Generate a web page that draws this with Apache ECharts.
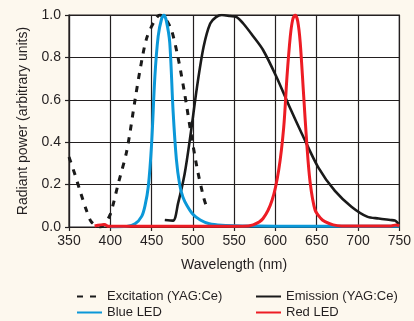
<!DOCTYPE html>
<html>
<head>
<meta charset="utf-8">
<script src="https://cdn.jsdelivr.net/npm/echarts@6/dist/echarts.min.js"></script>
<style>
html,body{margin:0;padding:0;background:#fdf8ee;}
#chart{width:414px;height:321px;}
</style>
</head>
<body>
<div id="chart"></div>
<script>
// Tick values
var xTicks = [350, 400, 450, 500, 550, 600, 650, 700, 750];
var yTicks = [0.0, 0.2, 0.4, 0.6, 0.8, 1.0];

// Series names
var seriesNames = ['Excitation (YAG:Ce)', 'Emission (YAG:Ce)', 'Blue LED', 'Red LED'];

// Excitation (YAG:Ce)
var excitationNm  = [350, 357, 363, 371, 377, 388, 394, 400, 410, 420, 430, 436, 444, 454, 460, 467, 474, 482, 490, 497, 505, 513, 517];
var excitationVal = [0.33, 0.25, 0.175, 0.08, 0.025, 0.0, 0.02, 0.06, 0.21, 0.36, 0.60, 0.74, 0.89, 0.975, 1.0, 0.98, 0.93, 0.80, 0.63, 0.46, 0.28, 0.14, 0.09];

// Emission (YAG:Ce)
var emissionNm  = [466, 476, 482, 490, 497, 505, 513, 521, 528, 535, 545, 553, 561, 573, 585, 601, 617, 632, 652, 672, 692, 711, 725, 739, 745, 749];
var emissionVal = [0.033, 0.03, 0.11, 0.25, 0.43, 0.66, 0.85, 0.96, 0.99, 1.0, 0.995, 0.99, 0.96, 0.90, 0.835, 0.71, 0.567, 0.44, 0.28, 0.17, 0.096, 0.049, 0.04, 0.033, 0.03, 0.015];

// Blue LED
var blueNm  = [400, 420, 430, 438, 442, 446, 450, 454, 458, 462, 465, 468, 472, 476, 480, 484, 488, 493, 500, 509, 520, 535, 560, 600, 700, 750];
var blueVal = [0.0, 0.003, 0.015, 0.05, 0.1, 0.19, 0.39, 0.71, 0.9, 0.98, 1.0, 0.97, 0.87, 0.55, 0.32, 0.2, 0.14, 0.1, 0.06, 0.033, 0.015, 0.008, 0.005, 0.004, 0.003, 0.003];

// Red LED
var redNm  = [381, 393, 398, 560, 573, 585, 596, 604, 610, 614, 618, 621, 624, 627, 630, 634, 638, 642, 648, 655, 660, 670, 680, 740, 746, 750];
var redVal = [0.005, 0.012, 0.003, 0.003, 0.01, 0.04, 0.127, 0.27, 0.47, 0.71, 0.9, 0.98, 1.0, 0.97, 0.87, 0.63, 0.39, 0.21, 0.08, 0.04, 0.025, 0.01, 0.005, 0.005, 0.01, 0.005];

function pairs(xs, ys) { return xs.map(function (x, i) { return [x, ys[i]]; }); }

var FONT = 'Liberation Sans, Arial, Helvetica, sans-serif';
var TXT = '#231f20';
var GRID = '#231f20';

function legendAt(left, names) {
  return {
    data: names, orient: 'vertical', left: left, top: 290, height: 40, padding: 0,
    itemWidth: 25, itemHeight: 14, itemGap: 3,
    itemStyle: {opacity: 0},
    textStyle: {fontSize: 13, color: TXT, fontFamily: FONT}
  };
}

var chart = echarts.init(document.getElementById('chart'), null, {renderer: 'canvas'});
chart.setOption({
  backgroundColor: '#fdf8ee',
  animation: false,
  textStyle: {fontFamily: FONT},
  grid: {
    left: 69, right: 8, top: 15, bottom: 94,
    show: true, backgroundColor: '#ffffff', borderColor: GRID, borderWidth: 1.2
  },
  xAxis: {
    type: 'value', min: xTicks[0], max: xTicks[xTicks.length - 1], interval: 50,
    name: 'Wavelength (nm)', nameLocation: 'middle', nameGap: 31,
    nameTextStyle: {fontSize: 14, color: TXT, fontFamily: FONT},
    axisLine: {show: true, lineStyle: {color: GRID, width: 1.2}},
    axisTick: {show: true, length: 4, lineStyle: {color: GRID, width: 1.2}},
    axisLabel: {fontSize: 14, color: TXT, margin: 7, fontFamily: FONT},
    splitLine: {show: true, lineStyle: {color: GRID, width: 1.2}}
  },
  yAxis: {
    type: 'value', min: yTicks[0], max: yTicks[yTicks.length - 1], interval: 0.2,
    name: 'Radiant power (arbitrary units)', nameLocation: 'middle', nameGap: 38,
    nameTextStyle: {fontSize: 14, color: TXT, fontFamily: FONT},
    axisLine: {show: true, lineStyle: {color: GRID, width: 1.2}},
    axisTick: {show: true, length: 4, lineStyle: {color: GRID, width: 1.2}},
    axisLabel: {fontSize: 14, color: TXT, margin: 8, fontFamily: FONT,
      formatter: function (v) { return v.toFixed(1); }},
    splitLine: {show: true, lineStyle: {color: GRID, width: 1.2}}
  },
  legend: [
    legendAt(76, [seriesNames[0], seriesNames[2]]),
    legendAt(255, [seriesNames[1], seriesNames[3]])
  ],
  series: [
    {
      name: seriesNames[0], type: 'line', data: pairs(excitationNm, excitationVal),
      smooth: 0.3, symbol: 'none', showSymbol: false,
      itemStyle: {color: '#1a1a1a'},
      lineStyle: {color: '#1a1a1a', width: 3, type: [6, 7]}, z: 2
    },
    {
      name: seriesNames[1], type: 'line', data: pairs(emissionNm, emissionVal),
      smooth: 0.3, symbol: 'none', showSymbol: false,
      itemStyle: {color: '#1a1a1a'},
      lineStyle: {color: '#1a1a1a', width: 2.6}, z: 3
    },
    {
      name: seriesNames[2], type: 'line', data: pairs(blueNm, blueVal),
      smooth: 0.3, symbol: 'none', showSymbol: false,
      itemStyle: {color: '#0b98d8'},
      lineStyle: {color: '#0b98d8', width: 3}, z: 4
    },
    {
      name: seriesNames[3], type: 'line', data: pairs(redNm, redVal),
      smooth: 0.3, symbol: 'none', showSymbol: false,
      itemStyle: {color: '#ed1c24'},
      lineStyle: {color: '#ed1c24', width: 3}, z: 5
    }
  ]
});
</script>
</body>
</html>
